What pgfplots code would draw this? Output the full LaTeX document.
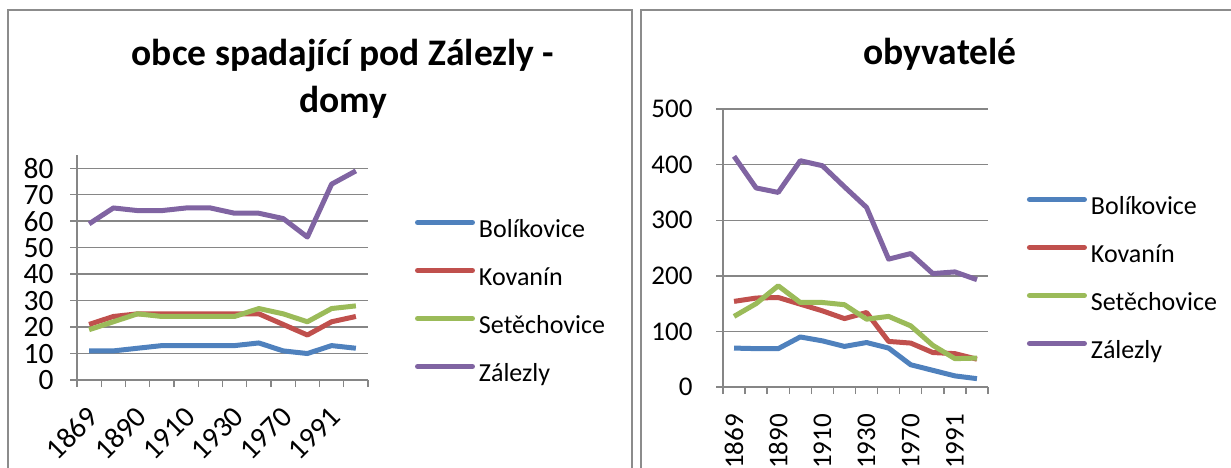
\documentclass[border=0pt]{standalone}
\usepackage{pgfplots}
\pgfplotsset{compat=1.18}
\usepackage{fontspec}
\setmainfont{Carlito}
\definecolor{cB}{HTML}{4F81BD}
\definecolor{cK}{HTML}{C0504D}
\definecolor{cS}{HTML}{9BBB59}
\definecolor{cZ}{HTML}{8064A2}
\definecolor{gridc}{HTML}{868686}
\definecolor{framec}{HTML}{8C8C8C}
\pgfplotsset{
  common/.style={
    scale only axis,
    xmin=-0.5, xmax=11.5,
    axis lines*=left,
    axis line style={gridc, line width=1.4pt},
    ymajorgrids,
    grid style={gridc, line width=1.4pt},
    tick align=outside,
    major tick length=7pt,
    tick style={gridc, line width=1.4pt},
    xtick={-0.5,0.5,...,11.5},
    xticklabels={},
    extra x ticks={0,2,4,6,8,10},
    extra x tick labels={1869,1890,1910,1930,1970,1991},
    extra x tick style={major tick length=0pt, grid=none},
    /pgf/number format/assume math mode=true,
    legend cell align=left,
    legend image code/.code={\draw[##1, line width=5pt, line cap=round] (0pt,8.5pt) -- (55pt,8.5pt);},
    every axis plot/.append style={line width=5pt, line join=round, no markers},
  },
  leg/.style={draw=none, fill=none, inner sep=0pt, outer sep=0pt, row sep=24pt, column sep=4pt,
    font=\fontsize{26}{26}\selectfont, nodes={inner sep=0pt, text height=18pt, text depth=6pt}},
}
\begin{document}
\begin{tikzpicture}[x=1pt,y=1pt]
\useasboundingbox (0,0) rectangle (1231,467);
\draw[framec, line width=2pt] (7.5,-5) -- (7.5,456.5) -- (631.5,456.5) -- (631.5,-5);
\draw[framec, line width=2pt] (640.5,-5) -- (640.5,456.5) -- (1240,456.5);
\node[font=\bfseries\fontsize{37.5}{37.5}\selectfont, anchor=base] at (343,401) {obce spadající pod Zálezly -};
\node[font=\bfseries\fontsize{37.5}{37.5}\selectfont, anchor=base] at (343,355) {domy};
\node[font=\bfseries\fontsize{37.5}{37.5}\selectfont, anchor=base] at (940,402) {obyvatelé};

\begin{axis}[common, at={(77pt,87pt)}, anchor=south west, width=291pt, height=225pt,
  ymin=0, ymax=85, ytick={0,10,...,80},
  tick label style={font=\fontsize{29.5}{29.5}\selectfont},
  yticklabel style={anchor=east, xshift=-13pt},
  xticklabel style={yshift=-32pt, xshift=4pt, rotate=45, anchor=east, inner sep=0pt},
  legend style={leg, at={(axis description cs:1.1615,0.7156)}, anchor=north west}]
\addplot[cB] coordinates {(0,11)(1,11)(2,12)(3,13)(4,13)(5,13)(6,13)(7,14)(8,11)(9,10)(10,13)(11,12)};
\addplot[cK] coordinates {(0,21)(1,24)(2,25)(3,25)(4,25)(5,25)(6,25)(7,25)(8,21)(9,17)(10,22)(11,24)};
\addplot[cS] coordinates {(0,19)(1,22)(2,25)(3,24)(4,24)(5,24)(6,24)(7,27)(8,25)(9,22)(10,27)(11,28)};
\addplot[cZ] coordinates {(0,59)(1,65)(2,64)(3,64)(4,65)(5,65)(6,63)(7,63)(8,61)(9,54)(10,74)(11,79)};
\legend{Bolíkovice,Kovanín,Setěchovice,Zálezly}
\end{axis}

\begin{axis}[common, at={(723pt,80pt)}, anchor=south west, width=265pt, height=278pt,
  ymin=0, ymax=500, ytick={0,100,...,500},
  tick label style={font=\fontsize{27}{27}\selectfont},
  yticklabel style={anchor=east, xshift=-20pt},
  xticklabel style={yshift=-27pt, rotate=90, anchor=east, inner sep=0pt},
  legend style={leg, at={(axis description cs:1.147,0.687)}, anchor=north west}]
\addplot[cB] coordinates {(0,70)(1,69)(2,69)(3,90)(4,83)(5,73)(6,80)(7,70)(8,40)(9,30)(10,20)(11,15)};
\addplot[cK] coordinates {(0,154)(1,160)(2,161)(3,149)(4,137)(5,123)(6,134)(7,82)(8,79)(9,62)(10,60)(11,50)};
\addplot[cS] coordinates {(0,127)(1,150)(2,182)(3,152)(4,152)(5,148)(6,122)(7,127)(8,110)(9,75)(10,51)(11,52)};
\addplot[cZ] coordinates {(0,415)(1,358)(2,350)(3,407)(4,398)(5,360)(6,323)(7,230)(8,240)(9,204)(10,207)(11,193)};
\legend{Bolíkovice,Kovanín,Setěchovice,Zálezly}
\end{axis}
\end{tikzpicture}
\end{document}
